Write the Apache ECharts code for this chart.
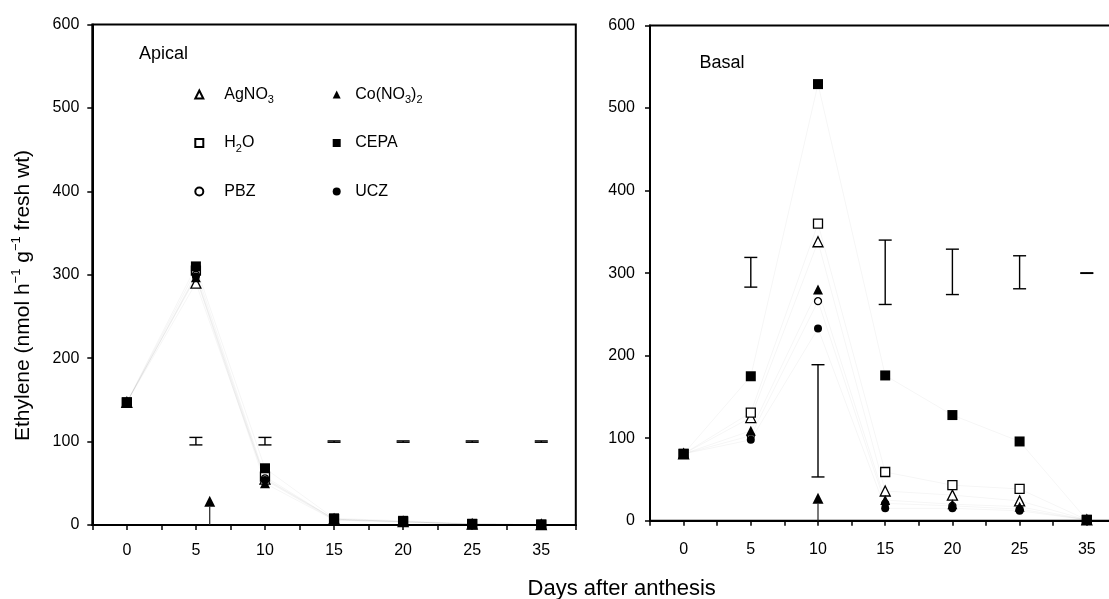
<!DOCTYPE html>
<html>
<head>
<meta charset="utf-8">
<script src="https://cdn.jsdelivr.net/npm/echarts@6/dist/echarts.min.js"></script>
<style>
  html, body { margin: 0; padding: 0; background: #fff; }
  #chart { width: 1109px; height: 599px; }
</style>
</head>
<body>
<div id="chart"></div>
<script>
// Days after anthesis (category labels)
const days = ['0', '5', '10', '15', '20', '25', '35'];

// Apical ethylene production (nmol h-1 g-1 fresh wt)
const apicalAgNO3 = [147, 290, 55, 7, 4, 1, 0.5];
const apicalCoNO3 = [147, 297, 50, 6, 4, 1, 0.5];
const apicalH2O   = [147, 305, 58, 7, 4, 1, 0.5];
const apicalCEPA  = [147, 310, 68, 8, 5, 1.5, 0.5];
const apicalPBZ   = [147, 300, 56, 7, 4, 1, 0.5];
const apicalUCZ   = [147, 298, 54, 6, 3, 1, 0.5];

// Basal ethylene production
const basalAgNO3 = [81, 125, 338, 36, 31, 24, 1];
const basalCoNO3 = [81, 109, 280, 25, 20, 17, 1];
const basalH2O   = [81, 131, 360, 59, 43, 38.5, 1];
const basalCEPA  = [81, 175, 529, 176, 128, 96, 1];
const basalPBZ   = [81, 103, 266, 21, 18, 14, 1];
const basalUCZ   = [81, 98, 233, 15, 15, 12, 1];

// LSD bars (low / high ends), null where no bar is drawn
const apicalLsdLow  = [null, 96, 96, 99.2, 99.2, 99.2, 99.2];
const apicalLsdHigh = [null, 105, 105, 100.8, 100.8, 100.8, 100.8];
const basalLsdLow   = [null, 283, 53, 262, 274, 281, 299.7];
const basalLsdHigh  = [null, 319, 189, 340, 329, 321, 300.3];

// Treatment arrows: position on the day scale (category index) and tip height
const apicalArrow = [[1.2, 35]];
const basalArrow  = [[2, 34]];

const FONT = 'Liberation Sans, Arial, Helvetica, sans-serif';

const treatments = [
  { name: 'AgNO3',    symbol: 'triangle', size: 10, open: true,  apical: apicalAgNO3, basal: basalAgNO3 },
  { name: 'H2O',      symbol: 'rect',     size: 9,  open: true,  apical: apicalH2O,   basal: basalH2O },
  { name: 'PBZ',      symbol: 'circle',   size: 7,  open: true,  apical: apicalPBZ,   basal: basalPBZ },
  { name: 'Co(NO3)2', symbol: 'triangle', size: 10, open: false, apical: apicalCoNO3, basal: basalCoNO3 },
  { name: 'UCZ',      symbol: 'circle',   size: 8,  open: false, apical: apicalUCZ,   basal: basalUCZ },
  { name: 'CEPA',     symbol: 'rect',     size: 10, open: false, apical: apicalCEPA,  basal: basalCEPA }
];

const richNames = {
  'AgNO3': 'AgNO{s|3}',
  'Co(NO3)2': 'Co(NO{s|3}){s|2}',
  'H2O': 'H{s|2}O',
  'CEPA': 'CEPA',
  'PBZ': 'PBZ',
  'UCZ': 'UCZ'
};

function symbolStyle(t) {
  return t.open
    ? { color: '#fff', borderColor: '#000', borderWidth: 1.3, opacity: 1 }
    : { color: '#000', borderWidth: 0, opacity: 1 };
}

function lsdData(low, high) {
  const out = [];
  for (let i = 0; i < low.length; i++) {
    if (low[i] != null) out.push([i, low[i], high[i]]);
  }
  return out;
}

function renderLsd(params, api) {
  const top = api.coord([api.value(0), api.value(2)]);
  const bot = api.coord([api.value(0), api.value(1)]);
  const half = 6.5;
  const st = { stroke: '#000', lineWidth: 1.4 };
  return {
    type: 'group',
    children: [
      { type: 'line', shape: { x1: top[0], y1: top[1], x2: bot[0], y2: bot[1] }, style: st },
      { type: 'line', shape: { x1: top[0] - half, y1: top[1], x2: top[0] + half, y2: top[1] }, style: st },
      { type: 'line', shape: { x1: bot[0] - half, y1: bot[1], x2: bot[0] + half, y2: bot[1] }, style: st }
    ]
  };
}

function renderArrow(params, api) {
  const base = api.coord([api.value(0), 0]);
  const tip = api.coord([api.value(0), api.value(1)]);
  const headH = 11, headW = 11;
  return {
    type: 'group',
    children: [
      { type: 'line', shape: { x1: base[0], y1: base[1], x2: tip[0], y2: tip[1] + headH },
        style: { stroke: '#222', lineWidth: 1.2 } },
      { type: 'polygon', shape: { points: [[tip[0], tip[1]], [tip[0] - headW / 2, tip[1] + headH], [tip[0] + headW / 2, tip[1] + headH]] },
        style: { fill: '#000' } }
    ]
  };
}

const series = [];
['apical', 'basal'].forEach(function (panel, p) {
  // faint connecting lines
  treatments.forEach(function (t) {
    series.push({
      type: 'line', xAxisIndex: 2 * p, yAxisIndex: p, data: t[panel],
      showSymbol: false, silent: true, z: 1,
      lineStyle: { color: 'rgba(0,0,0,0.04)', width: 1 }
    });
  });
  // treatment markers
  treatments.forEach(function (t) {
    series.push({
      type: 'scatter', name: t.name, xAxisIndex: 2 * p, yAxisIndex: p, data: t[panel],
      symbol: t.symbol, symbolSize: t.size, itemStyle: symbolStyle(t), z: 3,
      emphasis: { disabled: true }
    });
  });
  // LSD bars
  series.push({
    type: 'custom', xAxisIndex: 2 * p, yAxisIndex: p, silent: true, z: 2,
    data: p === 0 ? lsdData(apicalLsdLow, apicalLsdHigh) : lsdData(basalLsdLow, basalLsdHigh),
    encode: { x: 0, y: [1, 2] },
    renderItem: renderLsd
  });
  // arrows
  series.push({
    type: 'custom', xAxisIndex: 2 * p + 1, yAxisIndex: p, silent: true, z: 2,
    data: p === 0 ? apicalArrow : basalArrow,
    encode: { x: 0, y: 1 },
    renderItem: renderArrow
  });
});

function catAxis(gridIndex, margin) {
  return {
    type: 'category', gridIndex: gridIndex, data: days, position: 'bottom',
    axisLine: { show: true, onZero: false, lineStyle: { color: '#000', width: 2 } },
    axisTick: { show: false },
    axisLabel: { fontSize: 16, color: '#000', fontFamily: FONT, margin: margin },
    splitLine: { show: false }
  };
}
function tickAxis(gridIndex) {
  return {
    type: 'value', gridIndex: gridIndex, min: -0.5, max: 6.5, interval: 0.5, position: 'bottom',
    axisLine: { show: false, onZero: false },
    axisTick: { show: true, length: 5, lineStyle: { color: '#000', width: 1.5 } },
    axisLabel: { show: false },
    splitLine: { show: false }
  };
}
function valAxis(gridIndex, margin) {
  return {
    type: 'value', gridIndex: gridIndex, min: 0, max: 600, interval: 100, position: 'left',
    axisLine: { show: true, onZero: false, lineStyle: { color: '#000', width: 2 } },
    axisTick: { show: true, length: 5, lineStyle: { color: '#000', width: 1.5 } },
    axisLabel: { fontSize: 16, color: '#000', fontFamily: FONT, margin: margin },
    splitLine: { show: false }
  };
}

function legendCol(names, left, textPad) {
  return {
    orient: 'vertical', left: left, top: 78.5,
    itemWidth: 8, itemHeight: 8, itemGap: 26.5,
    selectedMode: false,
    data: names,
    formatter: function (n) { return richNames[n]; },
    textStyle: {
      fontSize: 16, color: '#000', fontFamily: FONT, lineHeight: 22,
      padding: [0, 0, 0, textPad],
      rich: { s: { fontSize: 11, fontFamily: FONT, color: '#000', verticalAlign: 'bottom' } }
    }
  };
}

const option = {
  animation: false,
  backgroundColor: '#fff',
  grid: [
    { left: 92.3, top: 24.5, width: 483.5, height: 500.5, outerBoundsMode: 'none',
      show: true, borderColor: '#000', borderWidth: 2, backgroundColor: 'transparent' },
    { left: 650, top: 25.5, width: 470.4, height: 495.2, outerBoundsMode: 'none',
      show: true, borderColor: '#000', borderWidth: 2, backgroundColor: 'transparent' }
  ],
  xAxis: [catAxis(0, 17.5), tickAxis(0), catAxis(1, 20.5), tickAxis(1)],
  yAxis: [valAxis(0, 13), valAxis(1, 15)],
  legend: [
    legendCol(['AgNO3', 'H2O', 'PBZ'], 189.3, 16),
    legendCol(['Co(NO3)2', 'CEPA', 'UCZ'], 327.7, 9.5)
  ],
  graphic: [
    { type: 'text', x: 139, y: 54, style: { text: 'Apical', fontSize: 18, fontFamily: FONT, fill: '#000', align: 'left', verticalAlign: 'middle' } },
    { type: 'text', x: 699.5, y: 62.7, style: { text: 'Basal', fontSize: 18, fontFamily: FONT, fill: '#000', align: 'left', verticalAlign: 'middle' } },
    { type: 'text', x: 621.7, y: 589, style: { text: 'Days after anthesis', fontSize: 22, fontFamily: FONT, fill: '#000', align: 'center', verticalAlign: 'middle' } },
    { type: 'text', x: 23, y: 441, rotation: Math.PI / 2,
      style: {
        text: 'Ethylene (nmol h{sup|\u22121} g{sup|\u22121} fresh wt)',
        fontSize: 21, fontFamily: FONT, fill: '#000', lineHeight: 26,
        align: 'left', verticalAlign: 'middle',
        rich: { sup: { fontSize: 13, fontFamily: FONT, fill: '#000', verticalAlign: 'top' } }
      } }
  ],
  series: series
};

const chart = echarts.init(document.getElementById('chart'));
chart.setOption(option);
</script>
</body>
</html>
